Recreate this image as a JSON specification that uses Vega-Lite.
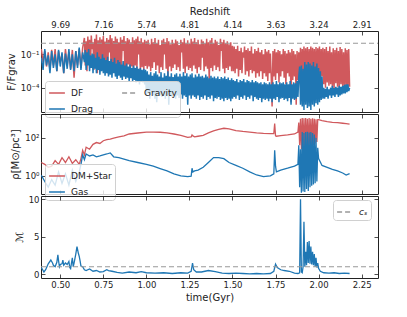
{
"$schema":"https://vega.github.io/schema/vega-lite/v6.json",
"padding":{"left":5,"top":5,"right":5,"bottom":5},
"bounds":"flush",
"spacing":2,
"config":{
 "font":"DejaVu Sans",
 "view":{"stroke":"#222","strokeWidth":1},
 "axis":{"domain":false,"grid":false,"tickSize":-4,"tickColor":"#222","tickWidth":0.8,"labelFont":"DejaVu Sans","labelFontSize":8.5,"labelColor":"#222","titleFont":"DejaVu Sans","titleFontSize":10,"titleFontWeight":"normal","titleColor":"#222","labelPadding":6},
 "legend":{"labelFont":"DejaVu Sans","labelFontSize":9,"labelColor":"#222","symbolStrokeWidth":1.5,"symbolSize":250,"symbolType":"stroke","fillColor":"rgba(255,255,255,0.8)","strokeColor":"#d0d0d0","cornerRadius":3,"padding":3,"rowPadding":2,"columnPadding":26,"labelOffset":5}
},
"resolve":{"scale":{"y":"independent","color":"independent","strokeDash":"independent"}},
"datasets":{
"p1":[
{"t":0.39,"DF":0.3,"Drag":0.05},{"t":0.40,"DF":0.02,"Drag":0.004},{"t":0.41,"DF":0.2,"Drag":0.3},{"t":0.42,"DF":0.008,"Drag":0.01},{"t":0.43,"DF":0.15,"Drag":0.08},{"t":0.44,"DF":0.004,"Drag":0.002},{"t":0.45,"DF":0.25,"Drag":0.2},{"t":0.46,"DF":0.01,"Drag":0.006},{"t":0.47,"DF":0.3,"Drag":0.1},{"t":0.48,"DF":0.003,"Drag":0.003},{"t":0.49,"DF":0.2,"Drag":0.25},{"t":0.50,"DF":0.02,"Drag":0.008},{"t":0.51,"DF":0.1,"Drag":0.15},{"t":0.52,"DF":0.002,"Drag":0.002},{"t":0.53,"DF":0.3,"Drag":0.12},{"t":0.54,"DF":0.01,"Drag":0.005},{"t":0.55,"DF":0.15,"Drag":0.3},{"t":0.56,"DF":0.005,"Drag":0.004},{"t":0.57,"DF":0.25,"Drag":0.1},{"t":0.58,"DF":0.0008,"Drag":0.003},{"t":0.59,"DF":0.2,"Drag":0.2},{"t":0.60,"DF":0.01,"Drag":0.006},{"t":0.61,"DF":0.3,"Drag":0.4},{"t":0.62,"DF":0.006,"Drag":0.004},{"t":0.63,"DF":0.4,"Drag":0.15},
{"t":0.640,"DF":3,"Drag":0.02},{"t":0.645,"DF":0.01,"Drag":0.25},{"t":0.650,"DF":1.5,"Drag":0.004},{"t":0.655,"DF":0.003,"Drag":0.15},{"t":0.660,"DF":4,"Drag":0.01},{"t":0.665,"DF":0.02,"Drag":0.3},{"t":0.670,"DF":2,"Drag":0.003},{"t":0.675,"DF":0.006,"Drag":0.08},{"t":0.680,"DF":5,"Drag":0.006},{"t":0.685,"DF":0.3,"Drag":0.12},{"t":0.690,"DF":1.2,"Drag":0.002},{"t":0.695,"DF":0.004,"Drag":0.1},{"t":0.700,"DF":2.5,"Drag":0.005},{"t":0.705,"DF":0.008,"Drag":0.05},{"t":0.710,"DF":6,"Drag":0.002},{"t":0.715,"DF":0.002,"Drag":0.15},{"t":0.720,"DF":1.8,"Drag":0.004},{"t":0.725,"DF":0.012,"Drag":0.06},{"t":0.730,"DF":3.5,"Drag":0.0015},{"t":0.735,"DF":0.005,"Drag":0.04},{"t":0.740,"DF":2.2,"Drag":0.003},{"t":0.745,"DF":0.03,"Drag":0.1},{"t":0.750,"DF":4.5,"Drag":0.002},{"t":0.755,"DF":0.004,"Drag":0.05},{"t":0.760,"DF":1.4,"Drag":0.0012},{"t":0.765,"DF":0.01,"Drag":0.03},{"t":0.770,"DF":3,"Drag":0.002},{"t":0.775,"DF":0.002,"Drag":0.06},{"t":0.780,"DF":2,"Drag":0.001},{"t":0.785,"DF":0.15,"Drag":0.025},{"t":0.790,"DF":5.5,"Drag":0.0015},{"t":0.795,"DF":0.006,"Drag":0.04},{"t":0.800,"DF":2.8,"Drag":0.0008},{"t":0.805,"DF":0.003,"Drag":0.02},{"t":0.810,"DF":1.6,"Drag":0.002},{"t":0.815,"DF":0.015,"Drag":0.05},{"t":0.820,"DF":4,"Drag":0.001},{"t":0.825,"DF":0.004,"Drag":0.015},{"t":0.830,"DF":2.5,"Drag":0.0006},{"t":0.835,"DF":0.008,"Drag":0.03},{"t":0.840,"DF":1.2,"Drag":0.0012},{"t":0.845,"DF":0.002,"Drag":0.02},{"t":0.850,"DF":3.5,"Drag":0.0008},{"t":0.855,"DF":0.01,"Drag":0.012},{"t":0.860,"DF":2,"Drag":0.0005},{"t":0.865,"DF":0.2,"Drag":0.025},{"t":0.870,"DF":4.5,"Drag":0.001},{"t":0.875,"DF":0.005,"Drag":0.01},{"t":0.880,"DF":1.5,"Drag":0.0006},{"t":0.885,"DF":0.003,"Drag":0.015},{"t":0.890,"DF":3,"Drag":0.0008},{"t":0.895,"DF":0.012,"Drag":0.008},{"t":0.900,"DF":2.2,"Drag":0.0004},{"t":0.905,"DF":0.004,"Drag":0.012},{"t":0.910,"DF":1.2,"Drag":0.0007},{"t":0.915,"DF":0.008,"Drag":0.006},{"t":0.920,"DF":3.5,"Drag":0.0004},{"t":0.925,"DF":0.002,"Drag":0.01},{"t":0.930,"DF":1.8,"Drag":0.0005},{"t":0.935,"DF":0.01,"Drag":0.006},{"t":0.940,"DF":2.5,"Drag":0.0003},{"t":0.945,"DF":0.005,"Drag":0.008},{"t":0.950,"DF":4,"Drag":0.0004},{"t":0.955,"DF":0.1,"Drag":0.005},{"t":0.960,"DF":1.5,"Drag":0.0002},{"t":0.965,"DF":0.003,"Drag":0.006},{"t":0.970,"DF":2.8,"Drag":0.0004},{"t":0.975,"DF":0.007,"Drag":0.004},{"t":0.980,"DF":1.2,"Drag":0.0003},{"t":0.985,"DF":0.004,"Drag":0.005},{"t":0.990,"DF":2,"Drag":0.0002},{"t":0.995,"DF":0.009,"Drag":0.004},
{"t":1.000,"DF":1.5,"Drag":2e-5},{"t":1.005,"DF":0.005,"Drag":3e-3},{"t":1.010,"DF":2,"Drag":3e-5},{"t":1.015,"DF":0.008,"Drag":1.5e-3},{"t":1.020,"DF":0.8,"Drag":1e-5},{"t":1.025,"DF":0.003,"Drag":2.5e-3},{"t":1.030,"DF":2.5,"Drag":4e-5},{"t":1.035,"DF":0.006,"Drag":1.2e-3},{"t":1.040,"DF":1.2,"Drag":2e-5},{"t":1.045,"DF":0.02,"Drag":2e-3},{"t":1.050,"DF":3,"Drag":1e-5},{"t":1.055,"DF":0.004,"Drag":3e-3},{"t":1.060,"DF":1,"Drag":5e-6},{"t":1.065,"DF":0.01,"Drag":1.5e-3},{"t":1.070,"DF":2,"Drag":3e-5},{"t":1.075,"DF":0.002,"Drag":1e-3},{"t":1.080,"DF":0.7,"Drag":2e-5},{"t":1.085,"DF":0.007,"Drag":2.5e-3},{"t":1.090,"DF":1.8,"Drag":1.5e-5},{"t":1.095,"DF":0.004,"Drag":8e-4},{"t":1.100,"DF":2.5,"Drag":3e-5},{"t":1.105,"DF":0.1,"Drag":2e-3},{"t":1.110,"DF":1.2,"Drag":1e-5},{"t":1.115,"DF":0.005,"Drag":1.2e-3},{"t":1.120,"DF":3,"Drag":2e-5},{"t":1.125,"DF":0.0005,"Drag":3e-3},{"t":1.130,"DF":1.5,"Drag":3e-6},{"t":1.135,"DF":0.008,"Drag":1e-3},{"t":1.140,"DF":0.8,"Drag":2e-5},{"t":1.145,"DF":0.003,"Drag":2e-3},{"t":1.150,"DF":2,"Drag":1.5e-5},{"t":1.155,"DF":0.006,"Drag":9e-4},{"t":1.160,"DF":1,"Drag":3e-5},{"t":1.165,"DF":0.012,"Drag":1.5e-3},{"t":1.170,"DF":2.2,"Drag":1e-5},{"t":1.175,"DF":0.004,"Drag":2e-3},{"t":1.180,"DF":1.5,"Drag":2e-5},{"t":1.185,"DF":0.007,"Drag":1e-3},{"t":1.190,"DF":0.7,"Drag":1.2e-5},{"t":1.195,"DF":0.003,"Drag":1.8e-3},{"t":1.200,"DF":2,"Drag":2.5e-5},{"t":1.205,"DF":0.15,"Drag":1e-3},{"t":1.210,"DF":1.2,"Drag":1e-5},{"t":1.215,"DF":0.005,"Drag":2.5e-3},{"t":1.220,"DF":2.8,"Drag":2e-5},{"t":1.225,"DF":0.002,"Drag":1.2e-3},{"t":1.230,"DF":1,"Drag":1.5e-5},{"t":1.235,"DF":0.008,"Drag":2e-3},{"t":1.240,"DF":1.8,"Drag":3e-6},{"t":1.245,"DF":0.004,"Drag":1e-3},{"t":1.250,"DF":0.9,"Drag":2e-5},{"t":1.255,"DF":0.006,"Drag":1.5e-3},{"t":1.260,"DF":2.5,"Drag":1e-5},{"t":1.265,"DF":0.003,"Drag":2e-3},{"t":1.270,"DF":1.4,"Drag":2e-5},{"t":1.275,"DF":0.01,"Drag":8e-4},{"t":1.280,"DF":3,"Drag":1.5e-5},{"t":1.285,"DF":0.005,"Drag":1.5e-3},{"t":1.290,"DF":1.2,"Drag":1e-5},{"t":1.295,"DF":0.002,"Drag":1e-3},{"t":1.300,"DF":2,"Drag":2e-5},{"t":1.305,"DF":0.007,"Drag":1.8e-3},{"t":1.310,"DF":0.8,"Drag":8e-6},{"t":1.315,"DF":0.004,"Drag":1e-3},{"t":1.320,"DF":2.2,"Drag":1.5e-5},{"t":1.325,"DF":0.05,"Drag":1.2e-3},{"t":1.330,"DF":1.5,"Drag":1e-5},{"t":1.335,"DF":0.003,"Drag":8e-4},{"t":1.340,"DF":1,"Drag":2e-5},{"t":1.345,"DF":0.008,"Drag":1.5e-3},{"t":1.350,"DF":2.5,"Drag":8e-6},{"t":1.355,"DF":0.005,"Drag":1e-3},{"t":1.360,"DF":1.2,"Drag":1.5e-5},{"t":1.365,"DF":0.0004,"Drag":7e-4},{"t":1.370,"DF":1.8,"Drag":1e-5},{"t":1.375,"DF":0.006,"Drag":1.2e-3},{"t":1.380,"DF":3,"Drag":2e-5},{"t":1.385,"DF":0.003,"Drag":8e-4},{"t":1.390,"DF":1,"Drag":6e-6},{"t":1.395,"DF":0.01,"Drag":1e-3},{"t":1.400,"DF":2,"Drag":1.2e-5},{"t":1.405,"DF":0.004,"Drag":7e-4},{"t":1.410,"DF":1.4,"Drag":1e-5},{"t":1.415,"DF":0.007,"Drag":1e-3},{"t":1.420,"DF":0.7,"Drag":1.5e-5},{"t":1.425,"DF":0.003,"Drag":6e-4},{"t":1.430,"DF":2.5,"Drag":8e-6},{"t":1.435,"DF":0.2,"Drag":9e-4},{"t":1.440,"DF":1.2,"Drag":1e-5},{"t":1.445,"DF":0.005,"Drag":7e-4},{"t":1.450,"DF":2,"Drag":6e-6},{"t":1.455,"DF":0.002,"Drag":1e-3},{"t":1.460,"DF":1,"Drag":1.2e-5},{"t":1.465,"DF":0.006,"Drag":6e-4},{"t":1.470,"DF":1.5,"Drag":8e-6},{"t":1.475,"DF":0.004,"Drag":8e-4},{"t":1.480,"DF":0.8,"Drag":1e-5},{"t":1.485,"DF":0.008,"Drag":5e-4},{"t":1.490,"DF":1.2,"Drag":6e-6},{"t":1.495,"DF":0.003,"Drag":7e-4},{"t":1.500,"DF":0.6,"Drag":1e-5},
{"t":1.505,"DF":0.003,"Drag":5e-4},{"t":1.510,"DF":0.5,"Drag":1.5e-5},{"t":1.515,"DF":0.002,"Drag":4e-4},{"t":1.520,"DF":0.3,"Drag":1e-5},{"t":1.525,"DF":0.005,"Drag":6e-4},{"t":1.530,"DF":0.6,"Drag":2e-5},{"t":1.535,"DF":0.001,"Drag":3e-4},{"t":1.540,"DF":0.2,"Drag":8e-6},{"t":1.545,"DF":0.004,"Drag":5e-4},{"t":1.550,"DF":0.4,"Drag":1.5e-5},{"t":1.555,"DF":0.002,"Drag":4e-4},{"t":1.560,"DF":0.15,"Drag":1e-5},{"t":1.565,"DF":0.05,"Drag":6e-4},{"t":1.570,"DF":0.5,"Drag":2e-5},{"t":1.575,"DF":0.0015,"Drag":3e-4},{"t":1.580,"DF":0.25,"Drag":8e-6},{"t":1.585,"DF":0.003,"Drag":5e-4},{"t":1.590,"DF":0.35,"Drag":1.5e-5},{"t":1.595,"DF":0.001,"Drag":4e-4},{"t":1.600,"DF":0.2,"Drag":1e-5},{"t":1.605,"DF":0.004,"Drag":3e-4},{"t":1.610,"DF":0.5,"Drag":2e-5},{"t":1.615,"DF":0.002,"Drag":5e-4},{"t":1.620,"DF":0.12,"Drag":6e-6},{"t":1.625,"DF":0.003,"Drag":3e-4},{"t":1.630,"DF":0.3,"Drag":1.5e-5},{"t":1.635,"DF":0.0008,"Drag":4e-4},{"t":1.640,"DF":0.2,"Drag":1e-5},{"t":1.645,"DF":0.002,"Drag":3e-4},{"t":1.650,"DF":0.4,"Drag":8e-6},{"t":1.655,"DF":0.001,"Drag":2.5e-4},{"t":1.660,"DF":0.15,"Drag":1.2e-5},{"t":1.665,"DF":0.003,"Drag":3e-4},{"t":1.670,"DF":0.25,"Drag":5e-6},{"t":1.675,"DF":0.0006,"Drag":2e-4},{"t":1.680,"DF":0.1,"Drag":1e-5},{"t":1.685,"DF":0.002,"Drag":3e-4},{"t":1.690,"DF":0.3,"Drag":8e-6},{"t":1.695,"DF":0.001,"Drag":2.5e-4},{"t":1.700,"DF":0.18,"Drag":1e-5},{"t":1.705,"DF":0.0004,"Drag":2e-4},{"t":1.710,"DF":0.25,"Drag":6e-6},{"t":1.715,"DF":0.002,"Drag":3e-4},{"t":1.720,"DF":0.12,"Drag":1e-5},{"t":1.725,"DF":0.001,"Drag":2e-4},
{"t":1.730,"DF":2e-6,"Drag":5e-6},{"t":1.735,"DF":0.2,"Drag":3e-4},{"t":1.740,"DF":0.001,"Drag":1e-5},{"t":1.745,"DF":0.3,"Drag":2e-4},{"t":1.750,"DF":0.0005,"Drag":8e-6},{"t":1.755,"DF":0.15,"Drag":4e-4},{"t":1.760,"DF":0.002,"Drag":1.5e-5},{"t":1.765,"DF":0.25,"Drag":2e-4},{"t":1.770,"DF":0.0003,"Drag":5e-6},{"t":1.775,"DF":0.2,"Drag":3e-4},{"t":1.780,"DF":0.001,"Drag":1e-5},{"t":1.785,"DF":0.1,"Drag":2.5e-4},{"t":1.790,"DF":0.003,"Drag":1.2e-5},{"t":1.795,"DF":0.3,"Drag":3e-4},{"t":1.800,"DF":0.0008,"Drag":8e-6},{"t":1.805,"DF":0.2,"Drag":2e-4},{"t":1.810,"DF":0.0002,"Drag":1e-5},{"t":1.815,"DF":0.12,"Drag":3e-4},{"t":1.820,"DF":0.002,"Drag":6e-6},{"t":1.825,"DF":0.25,"Drag":2e-4},{"t":1.830,"DF":0.001,"Drag":1.2e-5},{"t":1.835,"DF":0.15,"Drag":4e-4},{"t":1.840,"DF":5e-6,"Drag":3e-6},{"t":1.845,"DF":0.3,"Drag":2e-4},{"t":1.850,"DF":0.0005,"Drag":1e-5},{"t":1.855,"DF":0.2,"Drag":3e-4},{"t":1.860,"DF":0.001,"Drag":8e-6},{"t":1.865,"DF":0.1,"Drag":2.5e-4},{"t":1.870,"DF":3e-6,"Drag":1e-5},{"t":1.875,"DF":0.2,"Drag":4e-4},{"t":1.880,"DF":0.0005,"Drag":1.5e-5},{"t":1.885,"DF":0.15,"Drag":1e-3},
{"t":1.890,"DF":0.001,"Drag":0.008},{"t":1.895,"DF":0.4,"Drag":3e-6},{"t":1.900,"DF":0.0005,"Drag":0.01},{"t":1.905,"DF":0.3,"Drag":2e-6},{"t":1.910,"DF":0.002,"Drag":0.005},{"t":1.915,"DF":0.5,"Drag":1e-6},{"t":1.920,"DF":0.0003,"Drag":0.02},{"t":1.925,"DF":0.35,"Drag":3e-6},{"t":1.930,"DF":0.001,"Drag":0.012},{"t":1.935,"DF":0.45,"Drag":1.5e-6},{"t":1.940,"DF":0.0002,"Drag":0.02},{"t":1.945,"DF":0.3,"Drag":2e-6},{"t":1.950,"DF":0.002,"Drag":0.015},{"t":1.955,"DF":0.5,"Drag":1e-6},{"t":1.960,"DF":0.0005,"Drag":0.01},{"t":1.965,"DF":0.4,"Drag":3e-6},{"t":1.970,"DF":0.001,"Drag":0.02},{"t":1.975,"DF":0.3,"Drag":2e-6},{"t":1.980,"DF":0.0003,"Drag":0.008},{"t":1.985,"DF":0.45,"Drag":4e-6},{"t":1.990,"DF":0.001,"Drag":0.015},{"t":1.995,"DF":0.35,"Drag":3e-6},{"t":2.000,"DF":0.002,"Drag":0.006},{"t":2.005,"DF":0.5,"Drag":5e-6},{"t":2.010,"DF":0.0005,"Drag":0.003},{"t":2.015,"DF":0.3,"Drag":8e-6},{"t":2.020,"DF":0.001,"Drag":0.001},{"t":2.025,"DF":0.4,"Drag":1e-5},
{"t":2.030,"DF":2e-4,"Drag":1e-4},{"t":2.035,"DF":0.3,"Drag":1e-5},{"t":2.040,"DF":1e-4,"Drag":8e-5},{"t":2.045,"DF":0.45,"Drag":1.5e-5},{"t":2.050,"DF":3e-4,"Drag":1.2e-4},{"t":2.055,"DF":0.2,"Drag":1e-5},{"t":2.060,"DF":1.5e-4,"Drag":7e-5},{"t":2.065,"DF":0.5,"Drag":2e-5},{"t":2.070,"DF":2e-4,"Drag":1e-4},{"t":2.075,"DF":0.15,"Drag":1.2e-5},{"t":2.080,"DF":1e-4,"Drag":1.5e-4},{"t":2.085,"DF":0.35,"Drag":2e-5},{"t":2.090,"DF":8e-5,"Drag":9e-5},{"t":2.095,"DF":0.25,"Drag":1.5e-5},{"t":2.100,"DF":2.5e-4,"Drag":1.2e-4},{"t":2.105,"DF":0.4,"Drag":2.5e-5},{"t":2.110,"DF":1.2e-4,"Drag":1e-4},{"t":2.115,"DF":0.2,"Drag":1.5e-5},{"t":2.120,"DF":1e-4,"Drag":1.5e-4},{"t":2.125,"DF":0.45,"Drag":2e-5},{"t":2.130,"DF":2e-4,"Drag":1.2e-4},{"t":2.135,"DF":0.3,"Drag":2.5e-5},{"t":2.140,"DF":9e-5,"Drag":1.5e-4},{"t":2.145,"DF":0.15,"Drag":3e-5},{"t":2.150,"DF":1.5e-4,"Drag":1.8e-4},{"t":2.155,"DF":0.35,"Drag":3e-5},{"t":2.160,"DF":1e-4,"Drag":2e-4},{"t":2.165,"DF":0.25,"Drag":4e-5},{"t":2.170,"DF":8e-5,"Drag":2e-4},{"t":2.175,"DF":0.3,"Drag":5e-5},{"t":2.180,"DF":1.2e-4,"Drag":1e-4}
],
"grav":[{"t":0.388,"v":1,"key":"Gravity"},{"t":2.345,"v":1,"key":"Gravity"}],
"p2":[
{"t":0.39,"DM+Star":5,"Gas":1.07},{"t":0.41,"DM+Star":4,"Gas":0.5},{"t":0.43,"DM+Star":2.8,"Gas":0.25},{"t":0.45,"DM+Star":3.2,"Gas":0.63},{"t":0.47,"DM+Star":6.3,"Gas":0.32},{"t":0.49,"DM+Star":4,"Gas":1.6},{"t":0.51,"DM+Star":9,"Gas":0.4},{"t":0.53,"DM+Star":5,"Gas":1.26},{"t":0.55,"DM+Star":10,"Gas":0.32},{"t":0.57,"DM+Star":4.5,"Gas":2},{"t":0.59,"DM+Star":7,"Gas":0.5},{"t":0.61,"DM+Star":4,"Gas":1.6},{"t":0.62,"DM+Star":8,"Gas":4},{"t":0.63,"DM+Star":22,"Gas":12.6},{"t":0.64,"DM+Star":12.6,"Gas":7},{"t":0.65,"DM+Star":32,"Gas":14},{"t":0.67,"DM+Star":25,"Gas":11},{"t":0.69,"DM+Star":45,"Gas":12.6},{"t":0.71,"DM+Star":56,"Gas":10},{"t":0.73,"DM+Star":50,"Gas":11},{"t":0.75,"DM+Star":70,"Gas":12.6},{"t":0.77,"DM+Star":80,"Gas":14},{"t":0.79,"DM+Star":85,"Gas":16},{"t":0.81,"DM+Star":95,"Gas":10},{"t":0.84,"DM+Star":112,"Gas":9},{"t":0.87,"DM+Star":126,"Gas":7.5},{"t":0.90,"DM+Star":158,"Gas":6.3},{"t":0.95,"DM+Star":178,"Gas":5},{"t":1.00,"DM+Star":200,"Gas":4},{"t":1.04,"DM+Star":200,"Gas":3.2},{"t":1.08,"DM+Star":195,"Gas":2.4},{"t":1.12,"DM+Star":180,"Gas":1.8},{"t":1.16,"DM+Star":158,"Gas":1.26},{"t":1.20,"DM+Star":132,"Gas":1},{"t":1.24,"DM+Star":105,"Gas":0.9},{"t":1.26,"DM+Star":110,"Gas":0.95},{"t":1.265,"DM+Star":141,"Gas":2.5},{"t":1.27,"DM+Star":125,"Gas":1.6},{"t":1.28,"DM+Star":112,"Gas":1.8},{"t":1.30,"DM+Star":120,"Gas":2},{"t":1.33,"DM+Star":135,"Gas":2.8},{"t":1.36,"DM+Star":180,"Gas":5},{"t":1.39,"DM+Star":230,"Gas":9},{"t":1.42,"DM+Star":280,"Gas":9},{"t":1.45,"DM+Star":316,"Gas":8},{"t":1.48,"DM+Star":290,"Gas":5},{"t":1.52,"DM+Star":240,"Gas":3.5},{"t":1.56,"DM+Star":215,"Gas":2.5},{"t":1.60,"DM+Star":200,"Gas":1.6},{"t":1.64,"DM+Star":180,"Gas":1.1},{"t":1.68,"DM+Star":170,"Gas":0.9},{"t":1.72,"DM+Star":166,"Gas":1},{"t":1.74,"DM+Star":166,"Gas":1.26},{"t":1.745,"DM+Star":560,"Gas":22},{"t":1.75,"DM+Star":126,"Gas":3.2},{"t":1.755,"DM+Star":120,"Gas":1.6},{"t":1.78,"DM+Star":130,"Gas":2},{"t":1.82,"DM+Star":141,"Gas":2.5},{"t":1.86,"DM+Star":158,"Gas":3.2},{"t":1.88,"DM+Star":200,"Gas":4},{"t":1.885,"DM+Star":630,"Gas":40},{"t":1.89,"DM+Star":40,"Gas":0.25},{"t":1.895,"DM+Star":1000,"Gas":25},{"t":1.90,"DM+Star":25,"Gas":0.13},{"t":1.905,"DM+Star":1100,"Gas":200},{"t":1.91,"DM+Star":30,"Gas":0.15},{"t":1.915,"DM+Star":1050,"Gas":180},{"t":1.92,"DM+Star":20,"Gas":0.14},{"t":1.925,"DM+Star":1100,"Gas":200},{"t":1.93,"DM+Star":30,"Gas":0.2},{"t":1.935,"DM+Star":1000,"Gas":210},{"t":1.94,"DM+Star":25,"Gas":0.16},{"t":1.945,"DM+Star":1100,"Gas":190},{"t":1.95,"DM+Star":35,"Gas":0.25},{"t":1.955,"DM+Star":1000,"Gas":200},{"t":1.96,"DM+Star":30,"Gas":0.3},{"t":1.965,"DM+Star":1050,"Gas":180},{"t":1.97,"DM+Star":40,"Gas":0.35},{"t":1.975,"DM+Star":1000,"Gas":150},{"t":1.98,"DM+Star":50,"Gas":0.4},{"t":1.985,"DM+Star":950,"Gas":100},{"t":1.99,"DM+Star":60,"Gas":0.5},{"t":1.995,"DM+Star":900,"Gas":30},{"t":2.00,"DM+Star":890,"Gas":8},{"t":2.02,"DM+Star":800,"Gas":3.5},{"t":2.05,"DM+Star":700,"Gas":2.8},{"t":2.08,"DM+Star":650,"Gas":2.2},{"t":2.11,"DM+Star":620,"Gas":1.8},{"t":2.14,"DM+Star":580,"Gas":1.4},{"t":2.16,"DM+Star":560,"Gas":1.1},{"t":2.18,"DM+Star":525,"Gas":1.3}
],
"p3":[
{"t":0.39,"M":0.9},{"t":0.40,"M":0.5},{"t":0.405,"M":0.3},{"t":0.415,"M":0.6},{"t":0.43,"M":1.4},{"t":0.445,"M":1.9},{"t":0.455,"M":1.5},{"t":0.46,"M":1.2},{"t":0.47,"M":1.0},{"t":0.48,"M":1.6},{"t":0.486,"M":2.6},{"t":0.49,"M":1.8},{"t":0.495,"M":1.0},{"t":0.50,"M":1.3},{"t":0.51,"M":1.4},{"t":0.515,"M":1.9},{"t":0.52,"M":1.2},{"t":0.53,"M":1.5},{"t":0.54,"M":1.3},{"t":0.55,"M":1.7},{"t":0.555,"M":0.9},{"t":0.56,"M":0.75},{"t":0.565,"M":1.5},{"t":0.57,"M":2.2},{"t":0.575,"M":1.0},{"t":0.58,"M":1.5},{"t":0.59,"M":2.7},{"t":0.597,"M":3.7},{"t":0.605,"M":2.8},{"t":0.61,"M":2.4},{"t":0.615,"M":1.8},{"t":0.62,"M":1.1},{"t":0.63,"M":1.0},{"t":0.64,"M":0.6},{"t":0.65,"M":0.5},{"t":0.67,"M":0.7},{"t":0.69,"M":0.4},{"t":0.71,"M":0.5},{"t":0.73,"M":0.3},{"t":0.75,"M":0.35},{"t":0.77,"M":0.6},{"t":0.78,"M":0.5},{"t":0.80,"M":0.4},{"t":0.83,"M":0.25},{"t":0.86,"M":0.15},{"t":0.90,"M":0.3},{"t":0.94,"M":0.2},{"t":0.97,"M":0.35},{"t":1.00,"M":0.2},{"t":1.05,"M":0.15},{"t":1.10,"M":0.2},{"t":1.15,"M":0.1},{"t":1.20,"M":0.2},{"t":1.24,"M":0.15},{"t":1.26,"M":0.4},{"t":1.268,"M":1.5},{"t":1.275,"M":0.6},{"t":1.29,"M":0.3},{"t":1.32,"M":0.3},{"t":1.36,"M":0.5},{"t":1.40,"M":0.35},{"t":1.44,"M":0.15},{"t":1.48,"M":0.1},{"t":1.52,"M":0.15},{"t":1.56,"M":0.1},{"t":1.60,"M":0.05},{"t":1.64,"M":0.1},{"t":1.68,"M":0.05},{"t":1.72,"M":0.1},{"t":1.74,"M":0.4},{"t":1.75,"M":1.35},{"t":1.76,"M":0.9},{"t":1.78,"M":0.6},{"t":1.80,"M":0.5},{"t":1.83,"M":0.4},{"t":1.86,"M":0.15},{"t":1.88,"M":0.1},{"t":1.89,"M":0.2},{"t":1.895,"M":10.0},{"t":1.90,"M":0.3},{"t":1.905,"M":0.2},{"t":1.91,"M":1.0},{"t":1.915,"M":7.0},{"t":1.92,"M":1.0},{"t":1.925,"M":3.0},{"t":1.93,"M":1.2},{"t":1.935,"M":4.3},{"t":1.94,"M":1.5},{"t":1.945,"M":4.45},{"t":1.95,"M":1.4},{"t":1.955,"M":3.7},{"t":1.96,"M":1.3},{"t":1.965,"M":3.0},{"t":1.97,"M":1.2},{"t":1.975,"M":2.7},{"t":1.98,"M":1.0},{"t":1.985,"M":2.2},{"t":1.99,"M":0.9},{"t":1.995,"M":1.5},{"t":2.00,"M":0.8},{"t":2.01,"M":0.4},{"t":2.03,"M":0.2},{"t":2.06,"M":0.15},{"t":2.09,"M":0.2},{"t":2.12,"M":0.1},{"t":2.15,"M":0.15},{"t":2.18,"M":0.1}
],
"cs":[{"t":0.388,"v":1,"key":"cₛ"},{"t":2.345,"v":1,"key":"cₛ"}]
},
"vconcat":[
{
 "width":337,"height":81,
 "resolve":{"axis":{"x":"independent","y":"independent"}},
 "layer":[
  {
   "data":{"name":"p1"},
   "transform":[{"fold":["DF","Drag"],"as":["key","v"]}],
   "mark":{"type":"line","strokeWidth":1.5,"clip":true},
   "encoding":{
    "x":{"field":"t","type":"quantitative","scale":{"domain":[0.388,2.345],"nice":false,"zero":false},"axis":{"orient":"bottom","values":[0.5,0.75,1,1.25,1.5,1.75,2,2.25],"labels":false,"title":null}},
    "y":{"field":"v","type":"quantitative","scale":{"type":"log","domain":[6.5e-7,12.6],"nice":false},"axis":{"orient":"left","values":[0.0001,0.1],"labelExpr":"datum.value < 0.01 ? '10⁻⁴' : '10⁻¹'","title":"F/Fgrav"}},
    "color":{"field":"key","type":"nominal","scale":{"domain":["DF","Drag","Gravity"],"range":["#d0595d","#1f77b4","#999999"]},"legend":{"title":null,"orient":"none","legendX":4,"legendY":50,"columns":2}},
    "strokeDash":{"field":"key","type":"nominal","scale":{"domain":["DF","Drag","Gravity"],"range":[[1,0],[1,0],[5,3]]},"legend":{"title":null,"orient":"none","legendX":4,"legendY":50,"columns":2}}
   }
  },
  {
   "data":{"name":"grav"},
   "mark":{"type":"line","strokeWidth":1.2},
   "encoding":{
    "x":{"field":"t","type":"quantitative","axis":{"orient":"top","values":[0.5,0.75,1,1.25,1.5,1.75,2,2.25],"labelExpr":"datum.value < 0.6 ? '9.69' : datum.value < 0.8 ? '7.16' : datum.value < 1.1 ? '5.74' : datum.value < 1.3 ? '4.81' : datum.value < 1.6 ? '4.14' : datum.value < 1.8 ? '3.63' : datum.value < 2.1 ? '3.24' : '2.91'","title":"Redshift","labelPadding":6}},
    "y":{"field":"v","type":"quantitative","axis":{"orient":"right","values":[0.0001,0.1],"labels":false,"title":null}},
    "color":{"field":"key","type":"nominal"},
    "strokeDash":{"field":"key","type":"nominal"}
   }
  }
 ]
},
{
 "width":337,"height":80,
 "resolve":{"axis":{"x":"independent","y":"independent"}},
 "layer":[
  {
   "data":{"name":"p2"},
   "transform":[{"fold":["DM+Star","Gas"],"as":["key","v"]}],
   "mark":{"type":"line","strokeWidth":1.3,"clip":true},
   "encoding":{
    "x":{"field":"t","type":"quantitative","scale":{"domain":[0.388,2.345],"nice":false,"zero":false},"axis":{"orient":"bottom","values":[0.5,0.75,1,1.25,1.5,1.75,2,2.25],"labels":false,"title":null}},
    "y":{"field":"v","type":"quantitative","scale":{"type":"log","domain":[0.11,1780],"nice":false},"axis":{"orient":"left","values":[1,100],"labelExpr":"datum.value < 10 ? '10⁰' : '10²'","title":"ρ[M⊙/pc³]"}},
    "color":{"field":"key","type":"nominal","scale":{"domain":["DM+Star","Gas"],"range":["#d0595d","#1f77b4"]},"legend":{"title":null,"orient":"none","legendX":4,"legendY":50}}
   }
  },
  {
   "data":{"name":"p2"},
   "mark":{"type":"line","opacity":0},
   "encoding":{
    "x":{"field":"t","type":"quantitative","axis":{"orient":"top","values":[0.5,0.75,1,1.25,1.5,1.75,2,2.25],"labels":false,"title":null}},
    "y":{"field":"Gas","type":"quantitative","axis":{"orient":"right","values":[1,100],"labels":false,"title":null}}
   }
  }
 ]
},
{
 "width":337,"height":82,
 "resolve":{"axis":{"x":"independent","y":"independent"}},
 "layer":[
  {
   "data":{"name":"p3"},
   "mark":{"type":"line","strokeWidth":1.3,"color":"#1f77b4","clip":true},
   "encoding":{
    "x":{"field":"t","type":"quantitative","scale":{"domain":[0.388,2.345],"nice":false,"zero":false},"axis":{"orient":"bottom","values":[0.5,0.75,1,1.25,1.5,1.75,2,2.25],"format":".2f","title":"time(Gyr)"}},
    "y":{"field":"M","type":"quantitative","scale":{"domain":[-0.5,10.45],"nice":false,"zero":false},"axis":{"orient":"left","values":[0,5,10],"title":"ℳ"}}
   }
  },
  {
   "data":{"name":"cs"},
   "mark":{"type":"line","strokeWidth":1.2,"strokeDash":[5,3]},
   "encoding":{
    "x":{"field":"t","type":"quantitative","axis":{"orient":"top","values":[0.5,0.75,1,1.25,1.5,1.75,2,2.25],"labels":false,"title":null}},
    "y":{"field":"v","type":"quantitative","axis":{"orient":"right","values":[0,5,10],"labels":false,"title":null}},
    "color":{"field":"key","type":"nominal","scale":{"domain":["cₛ"],"range":["#999999"]},"legend":{"title":null,"orient":"none","legendX":292,"legendY":4,"labelFontStyle":"italic","symbolDash":[5,3]}}
   }
  }
 ]
}
]
}
